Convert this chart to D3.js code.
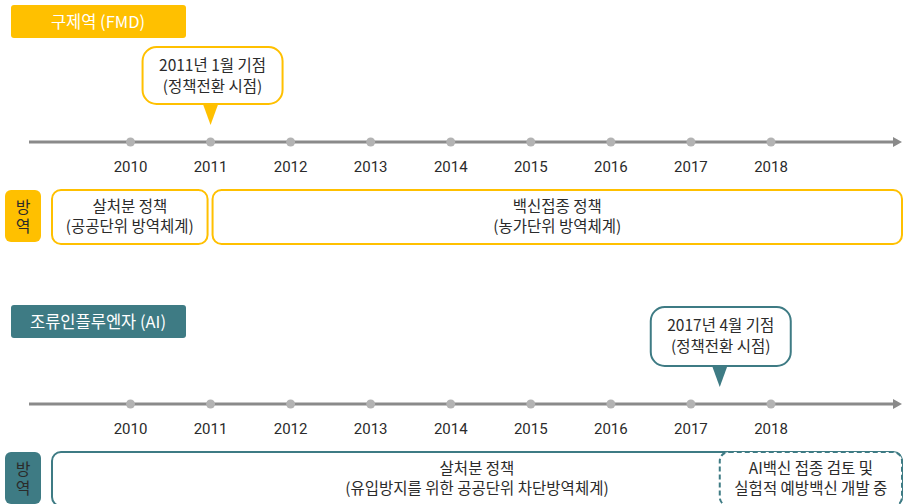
<!DOCTYPE html>
<html><head><meta charset="utf-8">
<script src="https://cdn.jsdelivr.net/npm/d3@7"></script>
<style>
html,body{margin:0;padding:0;background:#fff;}
svg{display:block;font-family:"Noto Sans CJK KR","Noto Sans",Roboto,sans-serif;}
</style></head>
<body>
<svg id="c" width="903" height="504"></svg>
<script>
// ---- data ----
const years = [2010, 2011, 2012, 2013, 2014, 2015, 2016, 2017, 2018];
const sectionTitles = ["구제역 (FMD)", "조류인플루엔자 (AI)"];
const sectionColors = ["#FFC000", "#3E7B84"];
const pointerYears = [2011.0, 2017.36];
const pointerLabels = [["2011년 1월 기점", "(정책전환 시점)"], ["2017년 4월 기점", "(정책전환 시점)"]];
const rowLabel = "방역";
const fmdPhases = [
  {start: null, end: 2011, lines: ["살처분 정책", "(공공단위 방역체계)"], dashed: false},
  {start: 2011, end: null, lines: ["백신접종 정책", "(농가단위 방역체계)"], dashed: false}
];
const aiPhases = [
  {start: null, end: null, lines: ["살처분 정책", "(유입방지를 위한 공공단위 차단방역체계)"], dashed: false},
  {start: 2017.36, end: null, lines: ["AI백신 접종 검토 및", "실험적 예방백신 개발 중"], dashed: true}
];

// ---- layout ----
const svg = d3.select("#c");
const x = d3.scaleLinear().domain([2010, 2018]).range([130.5, 771]);
const axisStart = 29, axisEnd = 902, boxLeft = 52, boxRight = 902;
const textColor = "#2b2b2b";
const fs = 15.5;

function section(i, top, phases) {
  const col = sectionColors[i];
  const g = svg.append("g").attr("transform", `translate(0,${top})`);
  // title tab
  g.append("rect").attr("x", 11).attr("y", 5).attr("width", 175).attr("height", 33)
    .attr("rx", 3).attr("fill", col);
  g.append("text").attr("x", 98).attr("y", 22).attr("dy", "0.35em")
    .attr("text-anchor", "middle").attr("fill", "#fff")
    .attr("font-size", 16.5).attr("font-weight", 400).text(sectionTitles[i]);

  // timeline axis
  const ay = i === 0 ? 142 : 104;
  const calloutTop = i === 0 ? 47 : 7;
  g.append("line").attr("x1", axisStart).attr("x2", axisEnd - 6)
    .attr("y1", ay).attr("y2", ay).attr("stroke", "#8a8a8a").attr("stroke-width", 3);
  g.append("path").attr("d", `M${axisEnd-9},${ay-5}L${axisEnd},${ay}L${axisEnd-9},${ay+5}Z`)
    .attr("fill", "#8a8a8a");
  g.selectAll("circle.dot").data(years).join("circle").attr("class", "dot")
    .attr("cx", d => x(d)).attr("cy", ay).attr("r", 4.5).attr("fill", "#b3b3b3");
  g.selectAll("text.yr").data(years).join("text").attr("class", "yr")
    .attr("x", d => x(d)).attr("y", ay + 25).attr("dy", "0.35em")
    .attr("text-anchor", "middle").attr("fill", textColor)
    .attr("font-family", "Roboto, 'Noto Sans CJK KR', sans-serif")
    .attr("font-size", 15).text(d => d);

  // callout
  const px = x(pointerYears[i]);
  const cw = 140, ch = i === 0 ? 57 : 59;
  const cx0 = px - (i === 0 ? 68 : 69);
  g.append("path")
    .attr("d", `M${px-8},${calloutTop+ch-1}L${px},${ay-17}L${px+8},${calloutTop+ch-1}Z`)
    .attr("fill", col);
  g.append("rect").attr("x", cx0).attr("y", calloutTop).attr("width", cw).attr("height", ch)
    .attr("rx", 14).attr("fill", "#fff").attr("stroke", col).attr("stroke-width", 2);
  pointerLabels[i].forEach((t, k) => {
    g.append("text").attr("x", cx0 + cw / 2).attr("y", calloutTop + 19 + k * 21).attr("dy", "0.35em")
      .attr("text-anchor", "middle").attr("fill", textColor).attr("font-size", fs).text(t);
  });

  // row label (vertical)
  const by = ay + 48;
  const bh = 54;
  g.append("rect").attr("x", 5).attr("y", by).attr("width", 36).attr("height", 52)
    .attr("rx", 6).attr("fill", col);
  g.append("text").attr("x", 23).attr("y", by + 28)
    .attr("text-anchor", "middle").attr("dominant-baseline", "central")
    .style("writing-mode", "vertical-rl").style("text-orientation", "upright")
    .style("letter-spacing", "3px")
    .attr("fill", textColor).attr("font-size", 16).text(rowLabel);

  // phases
  phases.forEach(p => {
    const x0 = p.start === null ? boxLeft : x(p.start) + (p.dashed ? 0 : 2);
    const x1 = p.end === null ? boxRight : x(p.end) - 3;
    g.append("rect").attr("x", x0).attr("y", by).attr("width", x1 - x0).attr("height", bh)
      .attr("rx", 9).attr("fill", "#fff").attr("stroke", col).attr("stroke-width", 2)
      .attr("stroke-dasharray", p.dashed ? "5,3" : null);
    p.lines.forEach((t, k) => {
      g.append("text").attr("x", (x0 + x1) / 2).attr("y", by + 17 + k * 20).attr("dy", "0.35em")
        .attr("text-anchor", "middle").attr("fill", textColor).attr("font-size", fs).text(t);
    });
  });
}

section(0, 0, fmdPhases);
section(1, 300, aiPhases);
</script>
</body></html>
